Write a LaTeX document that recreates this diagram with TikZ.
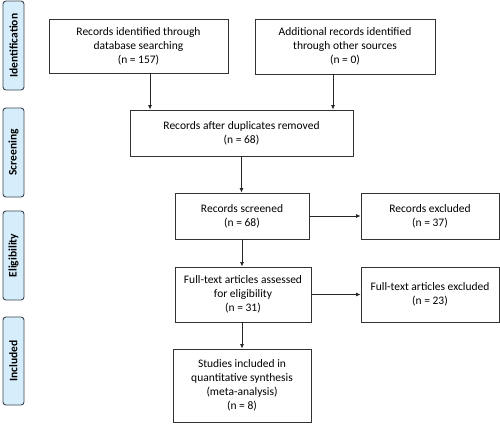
\documentclass[tikz,border=0pt]{standalone}
\usepackage{fontspec}
\setmainfont{Carlito}
\usepackage{xcolor}
\usetikzlibrary{positioning,arrows.meta}

\definecolor{stagefill}{RGB}{214,238,252}
\definecolor{stageline}{RGB}{60,70,80}

\tikzset{
  box/.style={draw=black!80, line width=0.8pt, rectangle, align=center,
              font=\fontsize{11.5}{14}\selectfont, inner sep=0pt},
  stage/.style={draw=stageline, fill=stagefill, line width=0.9pt, rounded corners=3pt,
                rotate=90, minimum height=21pt, font=\bfseries\fontsize{11.5}{13}\selectfont},
  arr/.style={-{Latex[length=4.5pt,width=4pt]}, line width=0.8pt, draw=black!85}
}

\begin{document}
\begin{tikzpicture}[x=1pt,y=-1pt]
    \useasboundingbox (0,0) rectangle (500,423);

    % stages on the left
    \node[stage, minimum width=89pt] (ident) at (13.5, 45.5) {Identification};
    \node[stage, minimum width=89pt] (screen) at (13.5,152.5) {Screening};
    \node[stage, minimum width=89pt] (elig) at (13.5,255.5) {Eligibility};
    \node[stage, minimum width=88pt] (incl) at (13.5,361) {Included};

    % identification
    \node[box, minimum width=179pt, minimum height=54pt] (rid) at (138.5, 46) {Records identified through\\database searching\\(n = 157)};
    \node[box, minimum width=180pt, minimum height=55pt] (radd) at (345, 46.5) {Additional records identified\\through other sources\\(n = 0)};

    % screening
    \node[box, minimum width=223pt, minimum height=46pt] (rdup) at (241.5,133) {Records after duplicates removed\\(n = 68)};
    \node[box, minimum width=134pt, minimum height=46pt] (rscr) at (242,216) {Records screened\\(n = 68)};
    \node[box, minimum width=138pt, minimum height=46pt] (rexc) at (430,216) {Records excluded\\(n = 37)};

    % eligibility
    \node[box, minimum width=136pt, minimum height=55pt] (fta) at (243,294.5) {Full-text articles assessed\\for eligibility\\(n = 31)};
    \node[box, minimum width=138pt, minimum height=55pt] (fte) at (430,294.5) {Full-text articles excluded\\(n = 23)};

    % included
    \node[box, minimum width=138pt, minimum height=73pt] (stud) at (242,385.5) {Studies included in\\quantitative synthesis\\(meta-analysis)\\(n = 8)};

    % connectors
    \draw[arr] ([xshift=11.5pt]rid.south) -- ([xshift=11.5pt]rid.south |- rdup.north);
    \draw[arr] ([xshift=-12pt]radd.south) -- ([xshift=-12pt]radd.south |- rdup.north);
    \draw[arr] (rdup.south) -- (rdup.south |- rscr.north);
    \draw[arr] (rscr.east) -- (rscr.east -| rexc.west);
    \draw[arr] (rscr.south) -- (rscr.south |- fta.north);
    \draw[arr] (fta.east) -- (fta.east -| fte.west);
    \draw[arr] (fta.south -| rscr.south) -- (rscr.south |- stud.north);
\end{tikzpicture}
\end{document}
